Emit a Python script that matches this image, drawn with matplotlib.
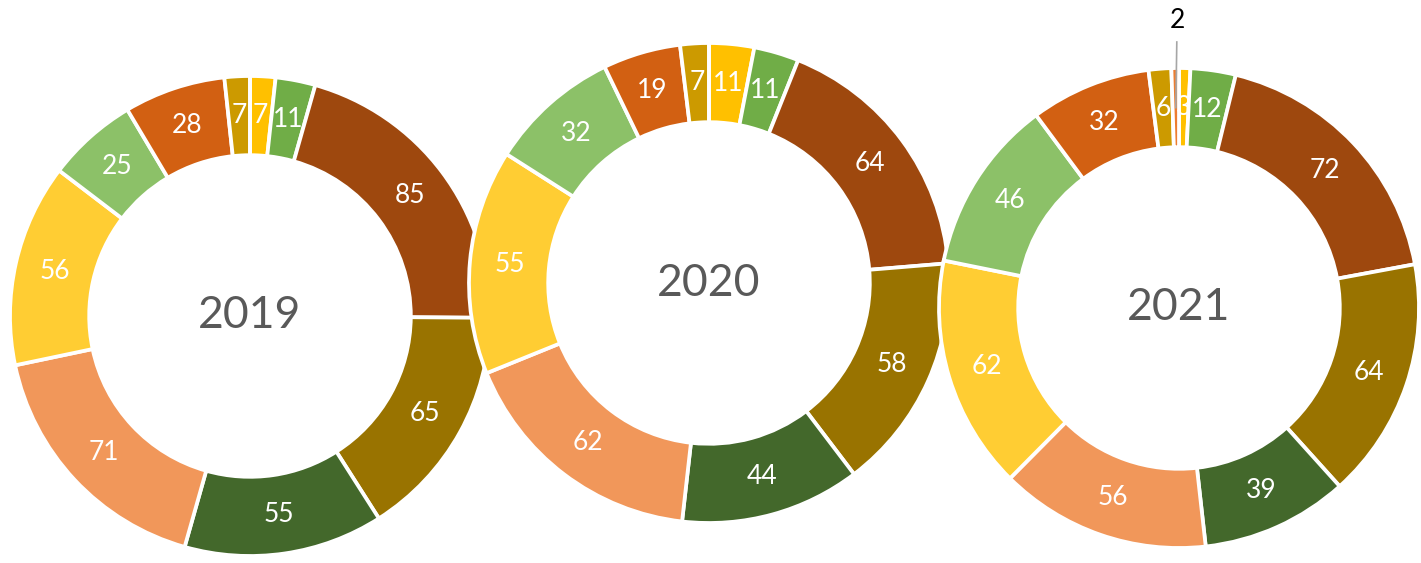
import numpy as np
import matplotlib.pyplot as plt

plt.rcParams['font.family'] = ['Lato', 'DejaVu Sans']

years = ['2019', '2020', '2021']
# slices clockwise from 12 o'clock
colors = ['#FFC000', '#70AD47', '#9E480E', '#997300', '#43682B', '#F1975A',
          '#FFCD33', '#8CC168', '#D26012', '#CC9A00', '#ED7D31']
v2019 = [7, 11, 85, 65, 55, 71, 56, 25, 28, 7, 0]
v2020 = [11, 11, 64, 58, 44, 62, 55, 32, 19, 7, 0]
v2021 = [3, 12, 72, 64, 39, 56, 62, 46, 32, 6, 2]

W, H = 1421, 563
fig = plt.figure(figsize=(W / 100, H / 100), dpi=100)
ax = fig.add_axes([0, 0, 1, 1])
ax.set_xlim(0, W)
ax.set_ylim(0, H)
ax.set_aspect('equal')
ax.axis('off')

# donut centers in pixels (y from top) and radius
centers = [(250, 316), (709, 283), (1179, 308)]
R = 240
ring = 0.33

for year, vals, (cx, cy) in zip(years, [v2019, v2020, v2021], centers):
    c = (cx, H - cy)
    wedges, _ = ax.pie(vals, colors=colors, startangle=90, counterclock=False,
                       radius=R, center=c, frame=True,
                       wedgeprops=dict(width=R * ring, edgecolor='white', linewidth=2.7))
    rm = R * (1 - ring / 2)
    for w, v in zip(wedges, vals):
        if v == 0:
            continue
        a = np.deg2rad((w.theta1 + w.theta2) / 2)
        x = c[0] + rm * np.cos(a)
        y = c[1] + rm * np.sin(a)
        if v <= 2:
            # small slice: label outside with leader line
            ax.plot([x, x + 1], [y, H - 42], color='#A6A6A6', lw=1.2)
            ax.text(x + 2, H - 20, str(v), color='black', fontsize=19,
                    ha='center', va='center')
        else:
            ax.text(x, y, str(v), color='white', fontsize=19,
                    ha='center', va='center')
    ax.text(c[0], c[1], year, color='#595959', fontsize=32,
            ha='center', va='center')

ax.set_xlim(0, W)
ax.set_ylim(0, H)
fig.savefig('out.png', dpi=100)
